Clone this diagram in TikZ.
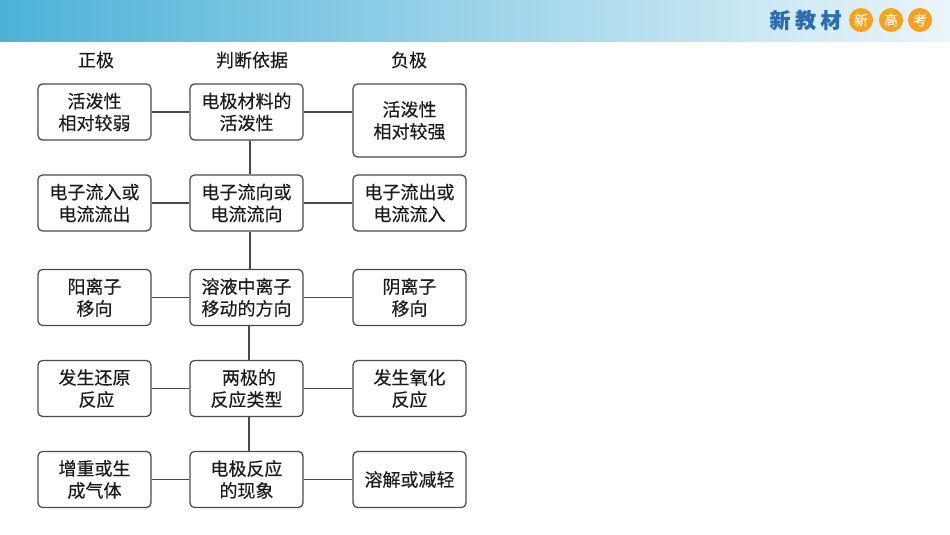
\documentclass[tikz,border=0pt]{standalone}
\usepackage{fontspec}
\setmainfont{Noto Sans CJK SC}[FakeBold=0.25]
\definecolor{edgegray}{HTML}{4A4A4A}
\definecolor{textdark}{HTML}{1C1C1C}
\definecolor{brandblue}{HTML}{2A6DB0}
\definecolor{badgeorange}{HTML}{F9A11B}
\definecolor{bandleft}{HTML}{4DB2D8}
\definecolor{bandmid}{HTML}{8DD0E7}
\definecolor{bandright}{HTML}{EAF5FA}
\tikzset{
  flowbox/.style={draw=edgegray,line width=1.25pt,rounded corners=4.5pt,fill=white,
    minimum width=113pt,minimum height=56pt,inner sep=0pt,align=center,text=textdark,
    font=\fontsize{18}{22}\selectfont},
  headlabel/.style={inner sep=0pt,text=textdark,font=\fontsize{18}{22}\selectfont},
  brandchar/.style={inner sep=0pt,text=brandblue,font=\fontsize{21}{24}\selectfont\bfseries},
  badge/.style={circle,fill=badgeorange,minimum size=24pt,inner sep=0pt,text=white,
    font=\fontsize{14}{16}\selectfont},
  link/.style={draw=edgegray,line width=1.25pt}
}
\begin{document}
\begin{tikzpicture}[x=1pt,y=-1pt]
\useasboundingbox (0,0) rectangle (950,535);
\fill[white] (0,0) rectangle (950,535);
\shade[left color=bandleft,middle color=bandmid,right color=bandright] (0,0) rectangle (950,42);
\node[brandchar] (b1) at (780,20) {新};
\node[brandchar] (b2) at (805.5,20) {教};
\node[brandchar] (b3) at (831,20) {材};
\node[badge] (o1) at (861,20) {新};
\node[badge] (o2) at (891,20) {高};
\node[badge] (o3) at (920,20) {考};

\node[headlabel] (h1) at (96,60) {正极};
\node[headlabel] (h2) at (252,60) {判断依据};
\node[headlabel] (h3) at (409,60) {负极};

\coordinate (spineA) at (250,0);
\coordinate (spineB) at (249,0);

\node[flowbox] (l1) at (94.5,112) {活泼性\\相对较弱};
\node[flowbox] (c1) at (246.5,112) {电极材料的\\活泼性};
\node[flowbox,minimum height=73pt] (r1) at (409.5,120.5) {活泼性\\相对较强};

\node[flowbox] (l2) at (94.5,203) {电子流入或\\电流流出};
\node[flowbox] (c2) at (246.5,203) {电子流向或\\电流流向};
\node[flowbox] (r2) at (409.5,203) {电子流出或\\电流流入};

\node[flowbox] (l3) at (94.5,297.5) {阳离子\\移向};
\node[flowbox] (c3) at (246.5,297.5) {溶液中离子\\移动的方向};
\node[flowbox] (r3) at (409.5,297.5) {阴离子\\移向};

\node[flowbox] (l4) at (94.5,388.5) {发生还原\\\hspace*{4pt}反应};
\node[flowbox] (c4) at (246.5,388.5) {\hspace*{5pt}两极的\\反应类型};
\node[flowbox] (r4) at (409.5,388.5) {发生氧化\\反应};

\node[flowbox] (l5) at (94.5,479.5) {增重或生\\成气体};
\node[flowbox] (c5) at (246.5,479.5) {电极反应\\的现象};
\node[flowbox] (r5) at (409.5,479.5) {溶解或减轻};

\foreach \n in {1,...,5}{
  \draw[link] (l\n.east) -- (c\n.west);
  \draw[link] (c\n.east) -- (c\n.east -| r\n.west);
}
\draw[link] (c1.south -| spineA) -- (c2.north -| spineA);
\draw[link] (c2.south -| spineA) -- (c3.north -| spineA);
\draw[link] (c3.south -| spineB) -- (c4.north -| spineB);
\draw[link] (c4.south -| spineB) -- (c5.north -| spineB);
\end{tikzpicture}
\end{document}
